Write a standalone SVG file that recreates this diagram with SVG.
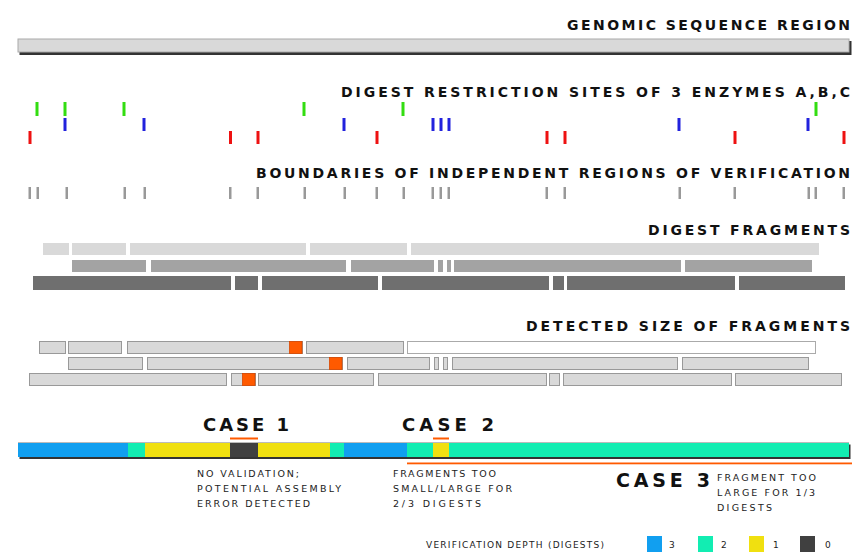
<svg xmlns="http://www.w3.org/2000/svg" width="853" height="552" viewBox="0 0 853 552">
<style>
.hd{font-family:"DejaVu Sans","Liberation Sans",sans-serif;font-weight:bold;font-size:14px;fill:#111}
.cs{font-family:"DejaVu Sans","Liberation Sans",sans-serif;font-weight:bold;font-size:18px;fill:#111}
.sm{font-family:"DejaVu Sans","Liberation Sans",sans-serif;font-size:9.5px;fill:#222}
.lg{font-family:"DejaVu Sans","Liberation Sans",sans-serif;font-size:9px;fill:#222}
.g{fill:#33dd11}.b{fill:#2222dd}.r{fill:#ee1111}.k{fill:#999}
.fa{fill:#d9d9d9}.fb{fill:#a3a3a3}.fc{fill:#6f6f6f}
.d{fill:#d9d9d9;stroke:#999;stroke-width:1}
.dw{fill:#fff;stroke:#aaa;stroke-width:1}
.o{fill:#ff5a00;stroke:#d84800;stroke-width:0.8}
.c3{fill:#119ff0}.c2{fill:#12edb2}.c1{fill:#f0e010}.c0{fill:#404040}
</style>

<g id="genomic">
<text class="hd" x="567" y="30" textLength="283" lengthAdjust="spacing">GENOMIC SEQUENCE REGION</text>
<rect x="19.5" y="41" width="832" height="14" fill="#333"/>
<rect x="18" y="39" width="831" height="13" fill="#d9d9d9" stroke="#aaa" stroke-width="1"/>
</g>

<g id="sites">
<text class="hd" x="341" y="97" textLength="509" lengthAdjust="spacing">DIGEST RESTRICTION SITES OF 3 ENZYMES A,B,C</text>
<g id="enzymeA">
<rect class="g" x="35.5" y="102" width="3" height="14"/>
<rect class="g" x="63.5" y="102" width="3" height="14"/>
<rect class="g" x="122.5" y="102" width="3" height="14"/>
<rect class="g" x="302.5" y="102" width="3" height="14"/>
<rect class="g" x="401.5" y="102" width="3" height="14"/>
<rect class="g" x="814.5" y="102" width="3" height="14"/>
</g>
<g id="enzymeB">
<rect class="b" x="63.5" y="118" width="3" height="13"/>
<rect class="b" x="142.5" y="118" width="3" height="13"/>
<rect class="b" x="342.5" y="118" width="3" height="13"/>
<rect class="b" x="431.5" y="118" width="3" height="13"/>
<rect class="b" x="439.5" y="118" width="3" height="13"/>
<rect class="b" x="447.5" y="118" width="3" height="13"/>
<rect class="b" x="677.5" y="118" width="3" height="13"/>
<rect class="b" x="806.5" y="118" width="3" height="13"/>
</g>
<g id="enzymeC">
<rect class="r" x="28.5" y="131" width="3" height="13"/>
<rect class="r" x="229" y="131" width="3" height="13"/>
<rect class="r" x="256.5" y="131" width="3" height="13"/>
<rect class="r" x="375.5" y="131" width="3" height="13"/>
<rect class="r" x="545.5" y="131" width="3" height="13"/>
<rect class="r" x="563.5" y="131" width="3" height="13"/>
<rect class="r" x="733.5" y="131" width="3" height="13"/>
<rect class="r" x="842.5" y="131" width="3" height="13"/>
</g>
</g>

<g id="boundaries">
<text class="hd" x="256" y="178" textLength="594" lengthAdjust="spacing">BOUNDARIES OF INDEPENDENT REGIONS OF VERIFICATION</text>
<rect class="k" x="28.5" y="187" width="2.5" height="12"/>
<rect class="k" x="36.5" y="187" width="2.5" height="12"/>
<rect class="k" x="65.5" y="187" width="2.5" height="12"/>
<rect class="k" x="123.5" y="187" width="2.5" height="12"/>
<rect class="k" x="143.5" y="187" width="2.5" height="12"/>
<rect class="k" x="229" y="187" width="2.5" height="12"/>
<rect class="k" x="256.5" y="187" width="2.5" height="12"/>
<rect class="k" x="303.5" y="187" width="2.5" height="12"/>
<rect class="k" x="343.5" y="187" width="2.5" height="12"/>
<rect class="k" x="375.5" y="187" width="2.5" height="12"/>
<rect class="k" x="402.5" y="187" width="2.5" height="12"/>
<rect class="k" x="431.5" y="187" width="2.5" height="12"/>
<rect class="k" x="439.5" y="187" width="2.5" height="12"/>
<rect class="k" x="447.5" y="187" width="2.5" height="12"/>
<rect class="k" x="545.5" y="187" width="2.5" height="12"/>
<rect class="k" x="563.5" y="187" width="2.5" height="12"/>
<rect class="k" x="678.5" y="187" width="2.5" height="12"/>
<rect class="k" x="733.5" y="187" width="2.5" height="12"/>
<rect class="k" x="807.5" y="187" width="2.5" height="12"/>
<rect class="k" x="814.5" y="187" width="2.5" height="12"/>
<rect class="k" x="842.5" y="187" width="2.5" height="12"/>
</g>

<g id="fragments">
<text class="hd" x="648" y="235" textLength="202" lengthAdjust="spacing">DIGEST FRAGMENTS</text>
<g id="fragA">
<rect class="fa" x="43" y="243" width="26" height="12"/>
<rect class="fa" x="72" y="243" width="54" height="12"/>
<rect class="fa" x="130" y="243" width="176" height="12"/>
<rect class="fa" x="310" y="243" width="97" height="12"/>
<rect class="fa" x="411" y="243" width="408" height="12"/>
</g>
<g id="fragB">
<rect class="fb" x="72" y="260" width="74" height="12"/>
<rect class="fb" x="151" y="260" width="195" height="12"/>
<rect class="fb" x="351" y="260" width="83" height="12"/>
<rect class="fb" x="438" y="260" width="5" height="12"/>
<rect class="fb" x="447" y="260" width="4" height="12"/>
<rect class="fb" x="454" y="260" width="227" height="12"/>
<rect class="fb" x="685" y="260" width="127" height="12"/>
</g>
<g id="fragC">
<rect class="fc" x="33" y="276" width="198" height="14"/>
<rect class="fc" x="235" y="276" width="23" height="14"/>
<rect class="fc" x="262" y="276" width="116" height="14"/>
<rect class="fc" x="382" y="276" width="167" height="14"/>
<rect class="fc" x="553" y="276" width="11" height="14"/>
<rect class="fc" x="567" y="276" width="168" height="14"/>
<rect class="fc" x="739" y="276" width="106" height="14"/>
</g>
</g>

<g id="detected">
<text class="hd" x="526" y="331" textLength="324" lengthAdjust="spacing">DETECTED SIZE OF FRAGMENTS</text>
<g id="detA">
<rect class="d" x="39.5" y="341.5" width="26" height="12"/>
<rect class="d" x="68.5" y="341.5" width="53" height="12"/>
<rect class="d" x="127.5" y="341.5" width="175" height="12"/>
<rect class="o" x="289.5" y="341.5" width="12.5" height="12"/>
<rect class="d" x="306.5" y="341.5" width="97" height="12"/>
<rect class="dw" x="407.5" y="341.5" width="408" height="12"/>
</g>
<g id="detB">
<rect class="d" x="68.5" y="357.5" width="74" height="12"/>
<rect class="d" x="147.5" y="357.5" width="195" height="12"/>
<rect class="o" x="329.5" y="357.5" width="12.5" height="12"/>
<rect class="d" x="347.5" y="357.5" width="82" height="12"/>
<rect class="d" x="434.5" y="357.5" width="4" height="12"/>
<rect class="d" x="443.5" y="357.5" width="4" height="12"/>
<rect class="d" x="452.5" y="357.5" width="225" height="12"/>
<rect class="d" x="682.5" y="357.5" width="126" height="12"/>
</g>
<g id="detC">
<rect class="d" x="29.5" y="373.5" width="197" height="12"/>
<rect class="d" x="231.5" y="373.5" width="24" height="12"/>
<rect class="o" x="242.5" y="373.5" width="12.5" height="12"/>
<rect class="d" x="258.5" y="373.5" width="115" height="12"/>
<rect class="d" x="378.5" y="373.5" width="168" height="12"/>
<rect class="d" x="549.5" y="373.5" width="10" height="12"/>
<rect class="d" x="563.5" y="373.5" width="168" height="12"/>
<rect class="d" x="735.5" y="373.5" width="106" height="12"/>
</g>
</g>

<g id="depth">
<rect x="19.5" y="444.5" width="831" height="14.5" fill="#333"/>
<rect x="18" y="442" width="831" height="1.5" fill="#bbb"/>
<rect class="c3" x="18" y="443" width="110" height="14"/>
<rect class="c2" x="128" y="443" width="17" height="14"/>
<rect class="c1" x="145" y="443" width="85" height="14"/>
<rect class="c0" x="230" y="443" width="28" height="14"/>
<rect class="c1" x="258" y="443" width="72" height="14"/>
<rect class="c2" x="330" y="443" width="14" height="14"/>
<rect class="c3" x="344" y="443" width="63" height="14"/>
<rect class="c2" x="407" y="443" width="26" height="14"/>
<rect class="c1" x="433" y="443" width="16" height="14"/>
<rect class="c2" x="449" y="443" width="400" height="14"/>
</g>

<g id="case1">
<text class="cs" x="203" y="431" textLength="86" lengthAdjust="spacing">CASE 1</text>
<rect x="230" y="437.5" width="28" height="2" fill="#ff5a00"/>
<text class="sm" x="197" y="476.5" textLength="102" lengthAdjust="spacing">NO VALIDATION;</text>
<text class="sm" x="197" y="491.5" textLength="144" lengthAdjust="spacing">POTENTIAL ASSEMBLY</text>
<text class="sm" x="197" y="506.5" textLength="113" lengthAdjust="spacing">ERROR DETECTED</text>
</g>

<g id="case2">
<text class="cs" x="402" y="431" textLength="92" lengthAdjust="spacing">CASE 2</text>
<rect x="433" y="437.5" width="16" height="2" fill="#ff5a00"/>
<text class="sm" x="393" y="476.5" textLength="103" lengthAdjust="spacing">FRAGMENTS TOO</text>
<text class="sm" x="393" y="491.5" textLength="119" lengthAdjust="spacing">SMALL/LARGE FOR</text>
<text class="sm" x="393" y="506.5" textLength="88" lengthAdjust="spacing">2/3 DIGESTS</text>
</g>

<g id="case3">
<rect x="407" y="462.5" width="445" height="1.8" fill="#ff5a00"/>
<text class="cs" x="616" y="487" textLength="94" lengthAdjust="spacing" style="font-size:19px">CASE 3</text>
<text class="sm" x="717" y="480.5" textLength="99" lengthAdjust="spacing">FRAGMENT TOO</text>
<text class="sm" x="717" y="495.5" textLength="98" lengthAdjust="spacing">LARGE FOR 1/3</text>
<text class="sm" x="717" y="510.5" textLength="55" lengthAdjust="spacing">DIGESTS</text>
</g>

<g id="legend">
<text class="lg" x="426" y="548" textLength="178" lengthAdjust="spacing">VERIFICATION DEPTH (DIGESTS)</text>
<rect class="c3" x="647" y="536" width="15" height="16"/>
<text class="lg" x="669" y="548">3</text>
<rect class="c2" x="698" y="536" width="15" height="16"/>
<text class="lg" x="721" y="548">2</text>
<rect class="c1" x="749" y="536" width="15" height="16"/>
<text class="lg" x="773" y="548">1</text>
<rect class="c0" x="800" y="536" width="15" height="16"/>
<text class="lg" x="825" y="548">0</text>
</g>
</svg>
